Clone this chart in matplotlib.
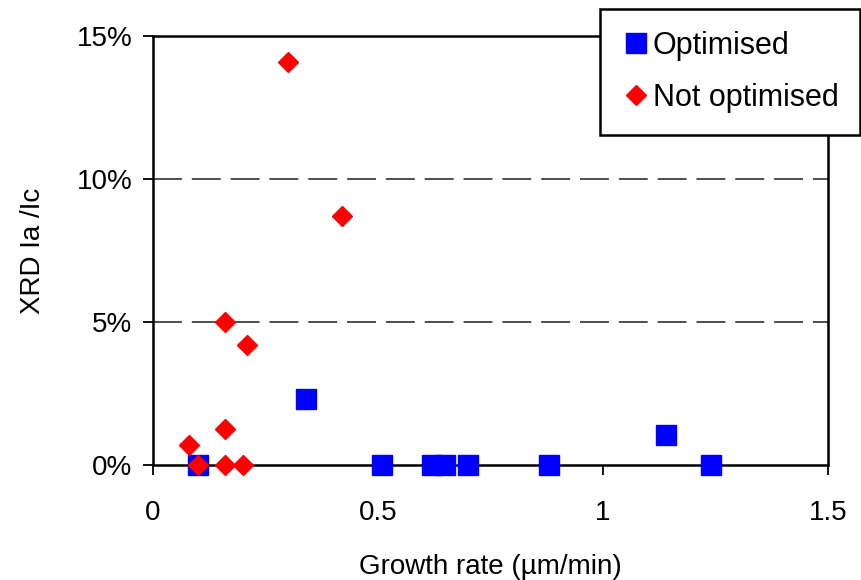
import matplotlib.pyplot as plt
from matplotlib.ticker import FuncFormatter

plt.rcParams['font.family'] = ['Liberation Sans', 'DejaVu Sans']

# Optimised samples (growth rate in um/min, XRD Ia/Ic in %)
opt_rate = [0.10, 0.34, 0.51, 0.62, 0.65, 0.70, 0.88, 1.14, 1.24]
opt_ratio = [0.0, 2.3, 0.0, 0.0, 0.0, 0.0, 0.0, 1.05, 0.0]

# Not optimised samples
notopt_rate = [0.30, 0.42, 0.16, 0.21, 0.16, 0.08, 0.10, 0.16, 0.20]
notopt_ratio = [14.1, 8.7, 5.0, 4.2, 1.25, 0.72, 0.0, 0.0, 0.0]

fig = plt.figure(figsize=(8.62, 5.8), dpi=100)
ax = fig.add_axes([0.1775, 0.198, 0.783, 0.740])

ax.plot(opt_rate, opt_ratio, 's', color='#0000ff', markersize=14,
        linestyle='none', clip_on=False, zorder=3, label='Optimised')
ax.plot(notopt_rate, notopt_ratio, 'D', color='#ff0000', markersize=10.5,
        linestyle='none', clip_on=False, zorder=4, label='Not optimised')

ax.set_xlim(0, 1.5)
ax.set_ylim(0, 15)
ax.set_xticks([0, 0.5, 1, 1.5])
ax.set_xticklabels(['0', '0.5', '1', '1.5'])
ax.set_yticks([0, 5, 10, 15])
ax.yaxis.set_major_formatter(FuncFormatter(lambda v, p: '%d%%' % v))

for y in [5, 10]:
    ax.axhline(y, color='#404040', linewidth=1.3, dashes=(16, 5.5), zorder=1)

for s in ax.spines.values():
    s.set_linewidth(1.8)
ax.tick_params(direction='out', length=7, width=1.3, labelsize=20)
ax.tick_params(axis='x', pad=18)
ax.tick_params(axis='y', pad=8)

ax.set_xlabel('Growth rate (\u00b5m/min)', fontsize=20, labelpad=20)
ax.set_ylabel('XRD Ia /Ic', fontsize=20, labelpad=22)

leg = fig.legend(loc='upper left', bbox_to_anchor=(0.696, 0.985),
                 fontsize=22, frameon=True, fancybox=False, framealpha=1,
                 handletextpad=0.1, handlelength=0.9, borderpad=0.72,
                 labelspacing=0.72, borderaxespad=0)
leg.get_frame().set_edgecolor('black')
leg.get_frame().set_linewidth(1.8)

plt.savefig('out.png', dpi=100)
